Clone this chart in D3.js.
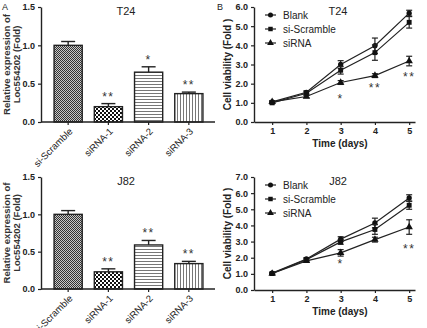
<!DOCTYPE html>
<html>
<head>
<meta charset="utf-8">
<script src="https://cdn.jsdelivr.net/npm/d3@7"></script>
<style>
  body { margin: 0; background: #fff; }
  svg { display: block; font-family: "Liberation Sans", Arial, sans-serif; }
</style>
</head>
<body>
<div id="chart"></div>
<script>
// bar panels (A)
const groups = ['si-Scramble', 'siRNA-1', 'siRNA-2', 'siRNA-3'];
const t24Expr = [1.0, 0.20, 0.65, 0.37];
const t24ExprErr = [0.05, 0.04, 0.07, 0.02];
const t24ExprSig = ['', '**', '*', '**'];
const j82Expr = [1.0, 0.23, 0.59, 0.34];
const j82ExprErr = [0.05, 0.04, 0.06, 0.03];
const j82ExprSig = ['', '**', '**', '**'];
const exprTicks = [0.0, 0.5, 1.0, 1.5];

// line panels (B)
const days = [1, 2, 3, 4, 5];
const seriesNames = ['Blank', 'si-Scramble', 'siRNA'];
const t24Blank = [1.05, 1.55, 3.0, 3.98, 5.68];
const t24Scramble = [1.0, 1.5, 2.7, 3.62, 5.2];
const t24Sirna = [1.05, 1.33, 2.06, 2.42, 3.18];
const t24BlankErr = [0.05, 0.08, 0.2, 0.4, 0.15];
const t24ScrambleErr = [0.05, 0.08, 0.2, 0.4, 0.3];
const t24SirnaErr = [0.05, 0.06, 0.1, 0.1, 0.25];
const t24Sig = [{ day: 3, y: 1.25, text: '*' }, { day: 4, y: 1.85, text: '**' }, { day: 5, y: 2.4, text: '**' }];
const j82Blank = [1.05, 1.92, 3.15, 4.15, 5.7];
const j82Scramble = [1.02, 1.88, 2.98, 3.75, 5.25];
const j82Sirna = [1.02, 1.8, 2.3, 3.12, 3.9];
const j82BlankErr = [0.05, 0.08, 0.15, 0.3, 0.2];
const j82ScrambleErr = [0.05, 0.08, 0.15, 0.3, 0.25];
const j82SirnaErr = [0.05, 0.06, 0.2, 0.15, 0.45];
const j82Sig = [{ day: 3, y: 1.65, text: '*' }, { day: 5, y: 2.6, text: '**' }];

const W = 427, H = 328;
const svg = d3.select('#chart').append('svg')
    .attr('width', W).attr('height', H);

const defs = svg.append('defs');

// fill patterns for the bars
function makePatterns() {
    const p0 = defs.append('pattern').attr('id', 'pat0')
        .attr('patternUnits', 'userSpaceOnUse').attr('width', 2).attr('height', 2);
    p0.append('rect').attr('width', 2).attr('height', 2).attr('fill', '#c8c8c8');
    p0.append('rect').attr('width', 1).attr('height', 1).attr('fill', '#333');
    p0.append('rect').attr('x', 1).attr('y', 1).attr('width', 1).attr('height', 1).attr('fill', '#333');

    const p1 = defs.append('pattern').attr('id', 'pat1')
        .attr('patternUnits', 'userSpaceOnUse').attr('width', 4).attr('height', 4);
    p1.append('rect').attr('width', 4).attr('height', 4).attr('fill', '#fff');
    p1.append('rect').attr('width', 2).attr('height', 2).attr('fill', '#111');
    p1.append('rect').attr('x', 2).attr('y', 2).attr('width', 2).attr('height', 2).attr('fill', '#111');

    const p2 = defs.append('pattern').attr('id', 'pat2')
        .attr('patternUnits', 'userSpaceOnUse').attr('width', 3).attr('height', 3);
    p2.append('rect').attr('width', 3).attr('height', 3).attr('fill', '#fff');
    p2.append('rect').attr('width', 3).attr('height', 1).attr('fill', '#777');

    const p3 = defs.append('pattern').attr('id', 'pat3')
        .attr('patternUnits', 'userSpaceOnUse').attr('width', 3).attr('height', 3);
    p3.append('rect').attr('width', 3).attr('height', 3).attr('fill', '#fff');
    p3.append('rect').attr('width', 1).attr('height', 3).attr('fill', '#777');
}
makePatterns();

function styleAxis(g) {
    g.selectAll('path').attr('stroke', '#222').attr('stroke-width', 1.4);
    g.selectAll('line').attr('stroke', '#222').attr('stroke-width', 1.2);
    g.selectAll('text').attr('fill', '#222').style('font-size', '9px').style('font-weight', 'bold');
}

function barPanel(opts) {
    const { top, bottom, title, values, errs, sig } = opts;
    const left = 41, right = 215;
    const g = svg.append('g');

    const x = d3.scaleBand().domain(groups).range([left + 1, right]).padding(0.3);
    const y = d3.scaleLinear().domain([0, 1.5]).range([bottom, top]);

    // error bars (upward only)
    groups.forEach((name, i) => {
        const cx = x(name) + x.bandwidth() / 2;
        g.append('line')
            .attr('x1', cx).attr('x2', cx)
            .attr('y1', y(values[i])).attr('y2', y(values[i] + errs[i]))
            .attr('stroke', '#222').attr('stroke-width', 1.4);
        g.append('line')
            .attr('x1', cx - 7).attr('x2', cx + 7)
            .attr('y1', y(values[i] + errs[i])).attr('y2', y(values[i] + errs[i]))
            .attr('stroke', '#222').attr('stroke-width', 1.4);
    });

    g.selectAll('rect.bar').data(groups).join('rect')
        .attr('class', 'bar')
        .attr('x', d => x(d))
        .attr('y', (d, i) => y(values[i]))
        .attr('width', x.bandwidth())
        .attr('height', (d, i) => y(0) - y(values[i]))
        .attr('fill', (d, i) => `url(#pat${i})`)
        .attr('stroke', '#222').attr('stroke-width', 1.4);

    // significance marks
    groups.forEach((name, i) => {
        if (!sig[i]) return;
        g.append('text')
            .attr('x', x(name) + x.bandwidth() / 2)
            .attr('y', y(values[i] + errs[i]) - 3)
            .attr('text-anchor', 'middle')
            .style('font-size', '12px')
            .style('letter-spacing', '1.5px')
            .attr('fill', '#333')
            .text(sig[i]);
    });

    const yAxis = g.append('g')
        .attr('transform', `translate(${left},0)`)
        .call(d3.axisLeft(y).tickValues(exprTicks).tickFormat(d3.format('.1f')).tickSize(3).tickSizeOuter(0));
    styleAxis(yAxis);

    const xAxis = g.append('g')
        .attr('transform', `translate(0,${bottom})`)
        .call(d3.axisBottom(x).tickSize(3).tickSizeOuter(0));
    xAxis.select('.domain').attr('d', `M${left},0H${right}`);
    styleAxis(xAxis);
    xAxis.selectAll('text')
        .style('font-weight', 'normal')
        .style('font-size', '9.5px')
        .attr('text-anchor', 'end')
        .attr('dy', null)
        .attr('y', 0)
        .attr('transform', 'translate(5,10) rotate(-45)');

    g.append('text')
        .attr('x', 126).attr('y', top + 8)
        .attr('text-anchor', 'middle')
        .style('font-size', '11px')
        .attr('fill', '#222')
        .text(title);

    const midY = (top + bottom) / 2;
    const yl = g.append('text')
        .attr('transform', `translate(10,${midY}) rotate(-90)`)
        .attr('text-anchor', 'middle')
        .style('font-size', '9.5px')
        .style('font-weight', 'bold')
        .attr('fill', '#333');
    yl.append('tspan').attr('x', 0).attr('dy', 0).text('Relative expression of');
    yl.append('tspan').attr('x', 0).attr('dy', 9.5).text('Loc554202 (Fold)');
}

function linePanel(opts) {
    const { top, bottom, title, ymax, ticks, series, errs, sig } = opts;
    const left = 254, right = 415;
    const g = svg.append('g');

    const x = d3.scaleLinear().domain([0.47, 5.17]).range([left, right]);
    const y = d3.scaleLinear().domain([0, ymax]).range([bottom, top]);

    const line = d3.line().x((d, i) => x(days[i])).y(d => y(d));

    series.forEach((vals, s) => {
        g.append('path').datum(vals)
            .attr('d', line)
            .attr('fill', 'none')
            .attr('stroke', '#222').attr('stroke-width', 1.2);
        vals.forEach((v, i) => {
            const cx = x(days[i]);
            const e = errs[s][i];
            g.append('line')
                .attr('x1', cx).attr('x2', cx)
                .attr('y1', y(v - e)).attr('y2', y(v + e))
                .attr('stroke', '#222').attr('stroke-width', 1.2);
            [v - e, v + e].forEach(ev => {
                g.append('line')
                    .attr('x1', cx - 3).attr('x2', cx + 3)
                    .attr('y1', y(ev)).attr('y2', y(ev))
                    .attr('stroke', '#222').attr('stroke-width', 1.2);
            });
        });
        const sym = [d3.symbolCircle, d3.symbolSquare, d3.symbolTriangle][s];
        const size = [22, 24, 24][s];
        g.selectAll(null).data(vals).join('path')
            .attr('transform', (d, i) => `translate(${x(days[i])},${y(d)})`)
            .attr('d', d3.symbol().type(sym).size(size))
            .attr('fill', '#111');
    });

    sig.forEach(m => {
        g.append('text')
            .attr('x', x(m.day)).attr('y', y(m.y) + 5)
            .attr('text-anchor', 'middle')
            .style('font-size', '12px')
            .style('letter-spacing', '1.5px')
            .attr('fill', '#333')
            .text(m.text);
    });

    const yAxis = g.append('g')
        .attr('transform', `translate(${left},0)`)
        .call(d3.axisLeft(y).tickValues(ticks).tickFormat(d3.format('.1f')).tickSize(3).tickSizeOuter(0));
    styleAxis(yAxis);

    const xAxis = g.append('g')
        .attr('transform', `translate(0,${bottom})`)
        .call(d3.axisBottom(x).tickValues(days).tickFormat(d3.format('d')).tickSize(3).tickSizeOuter(0));
    styleAxis(xAxis);

    g.append('text')
        .attr('x', 340).attr('y', bottom + 25)
        .attr('text-anchor', 'middle')
        .style('font-size', '10px').style('font-weight', 'bold')
        .attr('fill', '#222')
        .text('Time (days)');

    g.append('text')
        .attr('transform', `translate(231,${(top + bottom) / 2}) rotate(-90)`)
        .attr('text-anchor', 'middle')
        .style('font-size', '10px').style('font-weight', 'bold')
        .attr('fill', '#222')
        .text('Cell viability (Fold )');

    g.append('text')
        .attr('x', 338).attr('y', top + 8)
        .attr('text-anchor', 'middle')
        .style('font-size', '11px')
        .attr('fill', '#222')
        .text(title);

    // legend
    const legend = g.append('g').attr('transform', `translate(265,${top + 8})`);
    seriesNames.forEach((name, s) => {
        const ly = s * 14;
        legend.append('line')
            .attr('x1', 0).attr('x2', 11).attr('y1', ly).attr('y2', ly)
            .attr('stroke', '#222').attr('stroke-width', 1.2);
        const sym = [d3.symbolCircle, d3.symbolSquare, d3.symbolTriangle][s];
        legend.append('path')
            .attr('transform', `translate(5.5,${ly})`)
            .attr('d', d3.symbol().type(sym).size(20))
            .attr('fill', '#111');
        legend.append('text')
            .attr('x', 18).attr('y', ly + 3.5)
            .style('font-size', '10px')
            .attr('fill', '#222')
            .text(name);
    });
}

barPanel({ top: 7, bottom: 122, title: 'T24', values: t24Expr, errs: t24ExprErr, sig: t24ExprSig });
barPanel({ top: 177, bottom: 289, title: 'J82', values: j82Expr, errs: j82ExprErr, sig: j82ExprSig });

linePanel({
    top: 7, bottom: 122, title: 'T24', ymax: 6, ticks: [0, 1, 2, 3, 4, 5, 6],
    series: [t24Blank, t24Scramble, t24Sirna],
    errs: [t24BlankErr, t24ScrambleErr, t24SirnaErr],
    sig: t24Sig
});
linePanel({
    top: 177, bottom: 290, title: 'J82', ymax: 7, ticks: [0, 1, 2, 3, 4, 5, 6, 7],
    series: [j82Blank, j82Scramble, j82Sirna],
    errs: [j82BlankErr, j82ScrambleErr, j82SirnaErr],
    sig: j82Sig
});

// panel letters
svg.append('text').attr('x', 2).attr('y', 10).style('font-size', '9px').attr('fill', '#222').text('A');
svg.append('text').attr('x', 217).attr('y', 10).style('font-size', '9px').attr('fill', '#222').text('B');
</script>
</body>
</html>
